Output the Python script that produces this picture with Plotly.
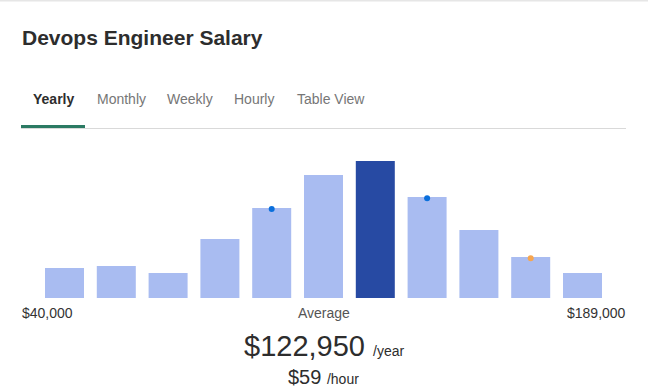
import plotly.graph_objects as go

# Data (relative frequency of salary bins; max bin = 100)
bins = list(range(11))
values = [21.9, 23.4, 18.2, 43.1, 65.7, 89.8, 100.0, 73.7, 49.6, 29.9, 18.2]
highlight_bin = 6
marker_bins = [4, 7, 9]
marker_colors = ["#0a6fdc", "#0a6fdc", "#f7a64f"]
min_label = "$40,000"
max_label = "$189,000"
avg_label = "Average"
avg_year = "$122,950"
avg_hour = "$59"
tabs = ["Yearly", "Monthly", "Weekly", "Hourly", "Table View"]
tab_x = [33, 96.5, 167, 234, 296.5]

W, H = 648, 389
FONT = "Liberation Sans, Arial, sans-serif"

def px(x):
    return x / W

def py(y):
    return 1 - y / H

light = "#a9bcf1"
dark = "#274aa3"
bar_colors = [dark if i == highlight_bin else light for i in bins]

fig = go.Figure()
fig.add_trace(go.Bar(x=bins, y=values, marker=dict(color=bar_colors, line=dict(width=0)),
                     hoverinfo="skip"))
fig.add_trace(go.Scatter(x=marker_bins, y=[values[i] - 0.8 for i in marker_bins], mode="markers",
                         marker=dict(color=marker_colors, size=6, line=dict(width=0)),
                         hoverinfo="skip"))

spacing = 51.8
x0 = -64.5 / spacing
x1 = x0 + W / spacing
scale = 1.37  # px per unit
base = 298
y0 = -(H - base) / scale
y1 = base / scale

annotations = [
    dict(x=px(21.5), y=py(38), text="<b>Devops Engineer Salary</b>", xanchor="left", yanchor="middle",
         font=dict(family=FONT, size=21, color="#2d2d2d")),
    dict(x=px(21.5), y=py(313), text=min_label, xanchor="left", yanchor="middle",
         font=dict(family=FONT, size=14, color="#333333")),
    dict(x=px(625.5), y=py(313), text=max_label, xanchor="right", yanchor="middle",
         font=dict(family=FONT, size=14, color="#333333")),
    dict(x=px(323.5), y=py(313), text=avg_label, xanchor="center", yanchor="middle",
         font=dict(family=FONT, size=14, color="#555555")),
    dict(x=px(323.5), y=py(346), text=avg_year + " <span style='font-size:14px'>/year</span>",
         xanchor="center", yanchor="middle", font=dict(family=FONT, size=29, color="#2d2d2d")),
    dict(x=px(323.5), y=py(377), text=avg_hour + " <span style='font-size:14px'>/hour</span>",
         xanchor="center", yanchor="middle", font=dict(family=FONT, size=20, color="#2d2d2d")),
]
for i, (t, x) in enumerate(zip(tabs, tab_x)):
    annotations.append(dict(x=px(x), y=py(99), text=(f"<b>{t}</b>" if i == 0 else t),
                            xanchor="left", yanchor="middle",
                            font=dict(family=FONT, size=14,
                                      color="#2d2d2d" if i == 0 else "#767676")))
for a in annotations:
    a.update(xref="paper", yref="paper", showarrow=False, borderpad=0, borderwidth=0)

shapes = [
    dict(type="rect", x0=px(0), x1=px(W), y0=py(0), y1=py(1.5), fillcolor="#e6e6e6", line=dict(width=0)),
    dict(type="rect", x0=px(21), x1=px(626), y0=py(128), y1=py(129), fillcolor="#d9d9d9", line=dict(width=0)),
    dict(type="rect", x0=px(21), x1=px(85), y0=py(125), y1=py(128), fillcolor="#2b7a63", line=dict(width=0)),
]
for s in shapes:
    s.update(xref="paper", yref="paper", layer="above")

fig.update_layout(
    width=W, height=H, margin=dict(l=0, r=0, t=0, b=0),
    paper_bgcolor="white", plot_bgcolor="white", showlegend=False,
    bargap=1 - 39 / spacing,
    xaxis=dict(range=[x0, x1], visible=False, fixedrange=True),
    yaxis=dict(range=[y0, y1], visible=False, fixedrange=True),
    annotations=annotations, shapes=shapes,
)

fig.write_html("out.html", config={"displayModeBar": False})
